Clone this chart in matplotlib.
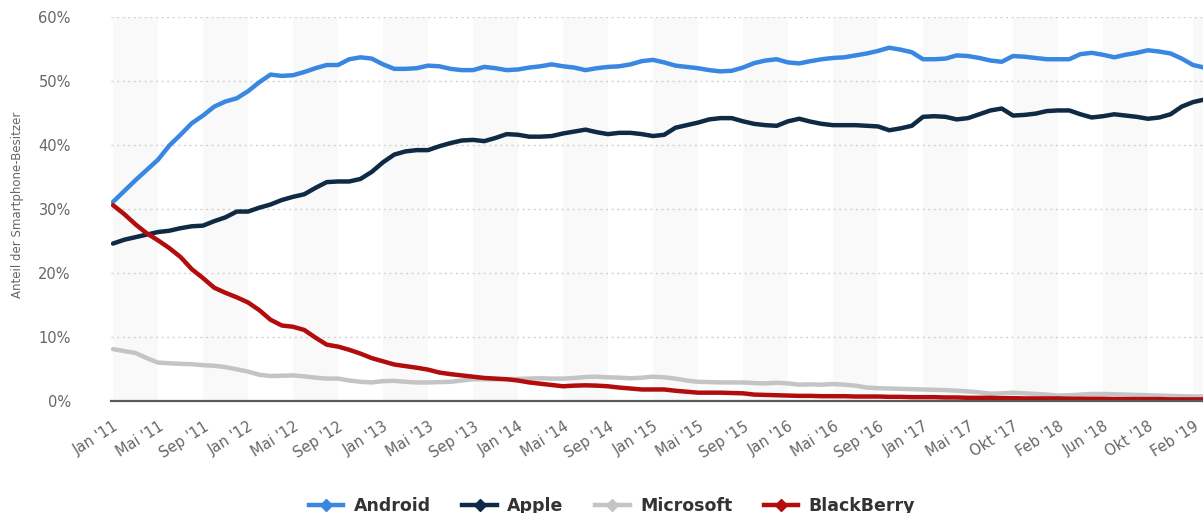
import matplotlib
matplotlib.use("Agg")
import matplotlib.pyplot as plt
import matplotlib.transforms as mtransforms
from matplotlib.lines import Line2D
import numpy as np

# ---------------- data ----------------
tick_labels = ["Jan '11", "Mai '11", "Sep '11", "Jan '12", "Mai '12", "Sep '12",
               "Jan '13", "Mai '13", "Sep '13", "Jan '14", "Mai '14", "Sep '14",
               "Jan '15", "Mai '15", "Sep '15", "Jan '16", "Mai '16", "Sep '16",
               "Jan '17", "Mai '17", "Okt '17", "Feb '18", "Jun '18", "Okt '18",
               "Feb '19"]

android = [31.1, 32.8, 34.5, 36.1, 37.7, 39.9, 41.6, 43.4, 44.6, 46.0,
           46.8, 47.3, 48.4, 49.8, 51.0, 50.8, 50.9, 51.4, 52.0, 52.5,
           52.5, 53.4, 53.7, 53.5, 52.6, 51.9,
           51.9, 52.0, 52.4, 52.3, 51.9, 51.7, 51.7, 52.2, 52.0, 51.7,
           51.8, 52.1, 52.3, 52.6, 52.3, 52.1, 51.7, 52.0, 52.2, 52.3,
           52.6, 53.1, 53.3, 52.9, 52.4, 52.2, 52.0, 51.7, 51.5, 51.6,
           52.1, 52.8, 53.2, 53.4, 52.9, 52.75,
           53.1, 53.4, 53.6, 53.7, 54.0, 54.3, 54.7, 55.2, 54.9, 54.5,
           53.4, 53.4, 53.5, 54.0, 53.9, 53.6, 53.2, 53.0, 53.9, 53.8,
           53.6, 53.4, 53.4, 53.4, 54.2, 54.4, 54.1, 53.7, 54.1, 54.4,
           54.8, 54.6, 54.3, 53.5, 52.5, 52.1]

apple = [24.6, 25.2, 25.6, 26.0, 26.4, 26.6, 27.0, 27.3, 27.4, 28.1,
         28.7, 29.6, 29.6, 30.2, 30.7, 31.4, 31.9, 32.3, 33.3, 34.2,
         34.3, 34.3, 34.7, 35.8, 37.3, 38.5,
         39.0, 39.2, 39.2, 39.8, 40.3, 40.7, 40.8, 40.6, 41.1, 41.7,
         41.6, 41.3, 41.3, 41.4, 41.8, 42.1, 42.4, 42.0, 41.7, 41.9,
         41.9, 41.7, 41.4, 41.6, 42.7, 43.1, 43.5, 44.0, 44.2, 44.2,
         43.7, 43.3, 43.1, 43.0, 43.7, 44.1,
         43.65, 43.3, 43.1, 43.1, 43.1, 43.0, 42.9, 42.3, 42.6, 43.0,
         44.4, 44.5, 44.4, 44.0, 44.2, 44.8, 45.4, 45.7, 44.6, 44.7,
         44.9, 45.3, 45.4, 45.4, 44.8, 44.3, 44.5, 44.8, 44.6, 44.4,
         44.1, 44.3, 44.8, 46.0, 46.7, 47.1]

microsoft = [8.1, 7.8, 7.5, 6.7, 6.0, 5.9, 5.8, 5.75, 5.6, 5.5,
             5.3, 4.95, 4.6, 4.1, 3.9, 3.95, 4.0, 3.85, 3.65, 3.5,
             3.5, 3.2, 3.0, 2.9, 3.1, 3.15, 3.0, 2.9, 2.9, 2.95,
             3.0, 3.2, 3.4, 3.4, 3.4, 3.4, 3.45, 3.5, 3.55, 3.5,
             3.5, 3.6, 3.75, 3.8, 3.7, 3.65, 3.55, 3.65, 3.8, 3.7,
             3.5, 3.2, 3.0, 2.95, 2.9, 2.9, 2.9, 2.8, 2.75, 2.85,
             2.75, 2.55, 2.6, 2.55, 2.65, 2.55, 2.4, 2.1, 2.0, 1.95,
             1.9, 1.85, 1.8, 1.75, 1.7, 1.6, 1.5, 1.35, 1.15, 1.2,
             1.3, 1.2, 1.1, 1.0, 0.85, 0.9, 1.0, 1.1, 1.1, 1.05,
             1.0, 0.95, 0.9, 0.85, 0.8, 0.75, 0.7, 0.7]

blackberry = [30.6, 29.2, 27.6, 26.2, 25.1, 23.9, 22.5, 20.6, 19.2, 17.7,
              16.9, 16.2, 15.4, 14.2, 12.7, 11.8, 11.6, 11.1, 9.9, 8.8,
              8.5, 8.0, 7.4, 6.7, 6.2, 5.7, 5.45, 5.2, 4.9, 4.45,
              4.2, 4.0, 3.8, 3.6, 3.5, 3.4, 3.2, 2.9, 2.7, 2.5,
              2.3, 2.4, 2.45, 2.4, 2.3, 2.1, 1.95, 1.8, 1.8, 1.8,
              1.6, 1.45, 1.3, 1.3, 1.3, 1.25, 1.2, 1.0, 0.95, 0.9,
              0.85, 0.8,
              0.8, 0.75, 0.75, 0.75, 0.7, 0.7, 0.7, 0.65, 0.65, 0.6,
              0.6, 0.6, 0.55, 0.55, 0.5, 0.5, 0.5, 0.45, 0.45, 0.4,
              0.4, 0.4, 0.4, 0.35, 0.35, 0.35, 0.35, 0.3, 0.3, 0.3,
              0.3, 0.3, 0.25, 0.25, 0.25, 0.25]

series_names = ["Android", "Apple", "Microsoft", "BlackBerry"]
series_colors = ["#3a87e2", "#0f2a44", "#c4c4c4", "#b20c0c"]

# ---------------- figure ----------------
W, H = 1203, 513
fig = plt.figure(figsize=(W / 100, H / 100), dpi=100)
left_px, right_px, top_px, bottom_px = 111, 1203, 17, 401
ax = fig.add_axes([left_px / W, 1 - bottom_px / H,
                   (right_px - left_px) / W, (bottom_px - top_px) / H])

x = np.arange(len(android))
step = 4
ticks = np.arange(0, len(tick_labels) * step, step)
px_per_cat = 11.25
xl = (left_px - 113) / px_per_cat
xr = (right_px - 113) / px_per_cat

# alternating bands
for j, t in enumerate(ticks):
    if j % 2 == 0:
        ax.axvspan(max(t, xl), t + step, color="#f9f9f9", zorder=0, lw=0)

# grid
for yv in range(10, 61, 10):
    ax.axhline(yv, color="#d2d2d2", lw=1.0, ls=(0, (1.5, 2.5)), zorder=1)

for vals, name, col in zip([android, apple, microsoft, blackberry], series_names, series_colors):
    ax.plot(x, vals, color=col, lw=3.2, solid_capstyle="round",
            solid_joinstyle="round", zorder=3, label=name)

ax.set_xlim(xl, xr)
ax.set_ylim(0, 60)
for s in ["top", "right", "left"]:
    ax.spines[s].set_visible(False)
ax.spines["bottom"].set_color("#5a5a5a")
ax.spines["bottom"].set_linewidth(1.6)
ax.spines["bottom"].set_zorder(4)

ax.set_yticks(range(0, 61, 10))
ax.set_yticklabels([f"{v}%" for v in range(0, 61, 10)])
ax.tick_params(axis="y", length=0, pad=29, labelsize=10.5, labelcolor="#666666")

ax.set_xticks(ticks)
ax.set_xticklabels(tick_labels, rotation=32, ha="right", rotation_mode="anchor",
                   fontsize=10.5, color="#666666")
ax.tick_params(axis="x", length=0, pad=13)
offset = mtransforms.ScaledTranslation(0 / 100, 0, fig.dpi_scale_trans)
for lab in ax.get_xticklabels():
    lab.set_transform(lab.get_transform() + offset)

fig.text(18 / W, 1 - 205 / H, "Anteil der Smartphone-Besitzer", rotation=90,
         ha="center", va="center", fontsize=8.5, color="#666666")

handles = [Line2D([0], [0], color=c, lw=3.2, marker="D", markersize=6.5,
                  markerfacecolor=c, markeredgecolor=c) for c in series_colors]
fig.legend(handles, series_names, loc="center", ncol=4,
           bbox_to_anchor=(612 / W, 1 - 506 / H), frameon=False,
           prop={"weight": "bold", "size": 12.5}, labelcolor="#333333",
           handlelength=2.0, handletextpad=0.6, columnspacing=1.8)

fig.savefig("out.png", dpi=100)
